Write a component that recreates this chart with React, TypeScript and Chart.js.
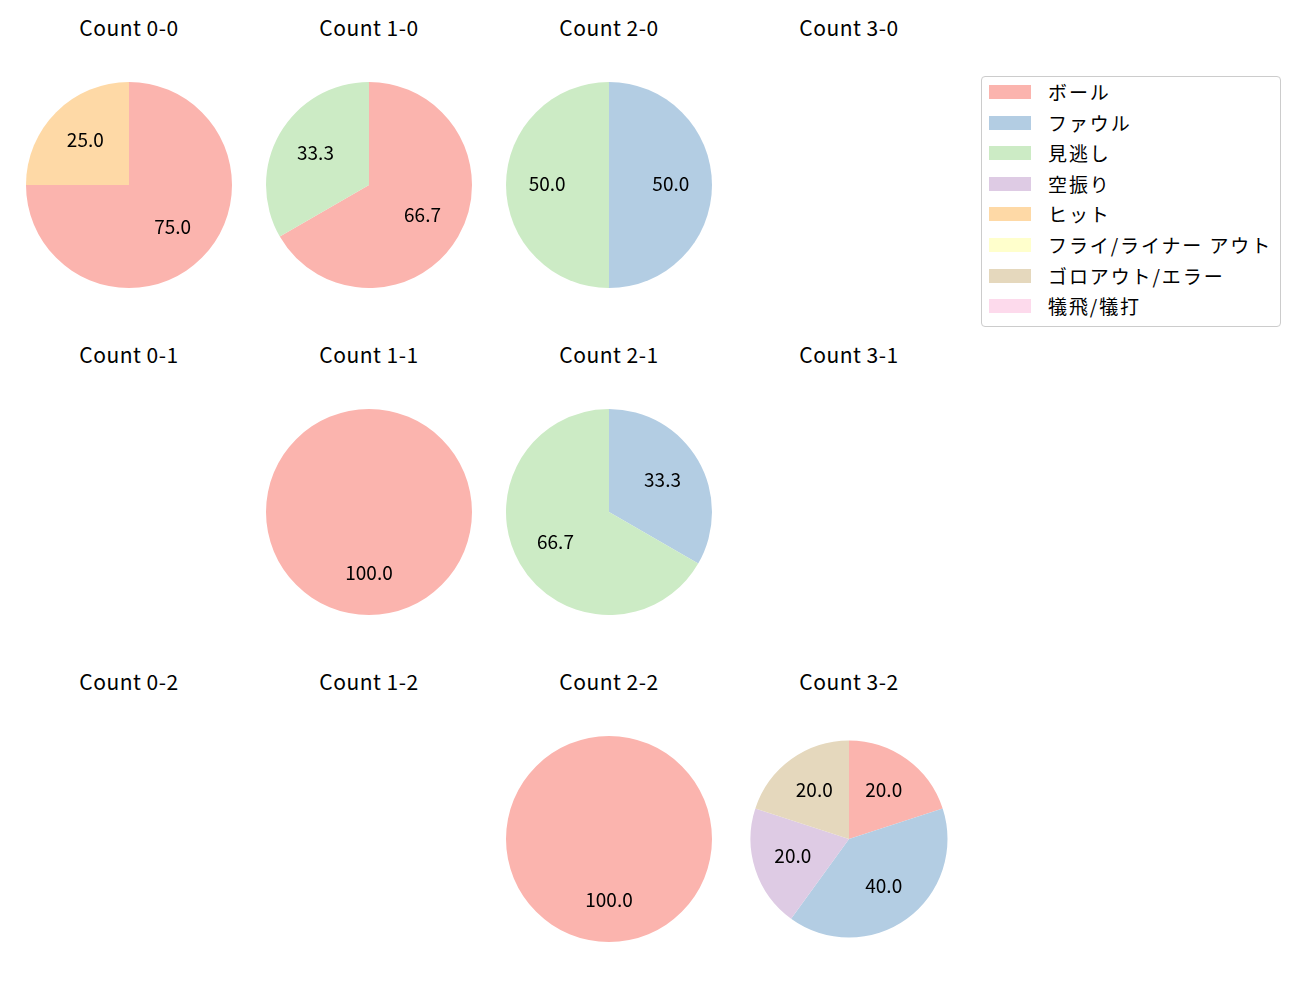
import React, { useEffect, useRef } from "react";
import { Chart, registerables } from "chart.js";

Chart.register(...registerables);

const CATEGORIES = [
  "ボール",
  "ファウル",
  "見逃し",
  "空振り",
  "ヒット",
  "フライ/ライナー アウト",
  "ゴロアウト/エラー",
  "犠飛/犠打",
];
const COLORS = ["#FBB4AE", "#B3CDE3", "#CCEBC5", "#DECBE4", "#FED9A6", "#FFFFCC", "#E5D8BD", "#FDDAEC"];

// counts per category, in CATEGORIES order
const COUNT_0_0 = [3, 0, 0, 0, 1, 0, 0, 0];
const COUNT_1_0 = [2, 0, 1, 0, 0, 0, 0, 0];
const COUNT_2_0 = [0, 1, 1, 0, 0, 0, 0, 0];
const COUNT_3_0: number[] = [];
const COUNT_0_1: number[] = [];
const COUNT_1_1 = [1, 0, 0, 0, 0, 0, 0, 0];
const COUNT_2_1 = [0, 1, 2, 0, 0, 0, 0, 0];
const COUNT_3_1: number[] = [];
const COUNT_0_2: number[] = [];
const COUNT_1_2: number[] = [];
const COUNT_2_2 = [1, 0, 0, 0, 0, 0, 0, 0];
const COUNT_3_2 = [1, 2, 0, 1, 0, 0, 1, 0];

const TITLES = [
  ["Count 0-0", "Count 1-0", "Count 2-0", "Count 3-0"],
  ["Count 0-1", "Count 1-1", "Count 2-1", "Count 3-1"],
  ["Count 0-2", "Count 1-2", "Count 2-2", "Count 3-2"],
];
const DATA = [
  [COUNT_0_0, COUNT_1_0, COUNT_2_0, COUNT_3_0],
  [COUNT_0_1, COUNT_1_1, COUNT_2_1, COUNT_3_1],
  [COUNT_0_2, COUNT_1_2, COUNT_2_2, COUNT_3_2],
];

const COL_X = [129, 369, 609, 849];
const ROW_Y = [185, 512, 839];
const FONT = '"Noto Sans CJK JP", "Noto Sans", sans-serif';

const pctLabels = {
  id: "pctLabels",
  afterDatasetsDraw(chart: any) {
    const ctx = chart.ctx;
    const meta = chart.getDatasetMeta(0);
    const data = chart.data.datasets[0].data as number[];
    const total = data.reduce((a, b) => a + b, 0);
    ctx.save();
    ctx.font = `19px ${FONT}`;
    ctx.fillStyle = "#000";
    ctx.textAlign = "center";
    ctx.textBaseline = "middle";
    meta.data.forEach((arc: any, i: number) => {
      const v = data[i];
      if (!v) return;
      const p = arc.getProps(["x", "y", "startAngle", "endAngle", "outerRadius"], true);
      const mid = (p.startAngle + p.endAngle) / 2;
      const r = p.outerRadius * 0.6;
      ctx.fillText(((v / total) * 100).toFixed(1), p.x + Math.cos(mid) * r, p.y + Math.sin(mid) * r - 1.5);
    });
    ctx.restore();
  },
};

function Pie({ data, cx, cy, radius }: { data: number[]; cx: number; cy: number; radius: number }) {
  const ref = useRef<HTMLCanvasElement>(null);
  useEffect(() => {
    if (!ref.current) return;
    const chart = new Chart(ref.current, {
      type: "pie",
      data: {
        labels: CATEGORIES,
        datasets: [{ data, backgroundColor: COLORS, borderWidth: 0 }],
      },
      options: {
        animation: false,
        responsive: false,
        maintainAspectRatio: false,
        radius,
        layout: { padding: 0 },
        plugins: { legend: { display: false }, tooltip: { enabled: false }, title: { display: false } },
      },
      plugins: [pctLabels],
    });
    return () => chart.destroy();
  }, [data, radius]);
  return (
    <canvas
      ref={ref}
      width={240}
      height={240}
      style={{ position: "absolute", left: cx - 120, top: cy - 120, width: 240, height: 240 }}
    />
  );
}

export default function App() {
  return (
    <div style={{ position: "absolute", left: 0, top: 0, width: 1300, height: 1000, background: "#fff", fontFamily: FONT }}>
      {TITLES.map((row, r) =>
        row.map((title, c) => {
          const data = DATA[r][c];
          const cx = COL_X[c];
          const cy = ROW_Y[r];
          const radius = r === 2 && c === 3 ? 98.5 : 103;
          return (
            <React.Fragment key={`${r}-${c}`}>
              <div
                style={{
                  position: "absolute",
                  left: cx - 100,
                  width: 200,
                  top: cy - 157 - 13,
                  height: 24,
                  lineHeight: "24px",
                  textAlign: "center",
                  fontSize: 21,
                  letterSpacing: "0.5px",
                  color: "#000",
                  whiteSpace: "nowrap",
                }}
              >
                {title}
              </div>
              {data.length > 0 && <Pie data={data} cx={cx} cy={cy} radius={radius} />}
            </React.Fragment>
          );
        })
      )}
      <div
        style={{
          position: "absolute",
          left: 981,
          top: 76,
          width: 298,
          height: 249,
          border: "1px solid #cccccc",
          borderRadius: 4,
          background: "#fff",
        }}
      />
      {CATEGORIES.map((name, i) => {
        const y = 92 + i * 30.6;
        return (
          <React.Fragment key={name}>
            <div
              style={{
                position: "absolute",
                left: 989,
                top: y - 7,
                width: 42,
                height: 14,
                background: COLORS[i],
              }}
            />
            <div
              style={{
                position: "absolute",
                left: 1048,
                top: y - 12,
                height: 24,
                lineHeight: "24px",
                fontSize: 19,
                letterSpacing: "1.9px",
                color: "#000",
                whiteSpace: "nowrap",
              }}
            >
              {name}
            </div>
          </React.Fragment>
        );
      })}
    </div>
  );
}
